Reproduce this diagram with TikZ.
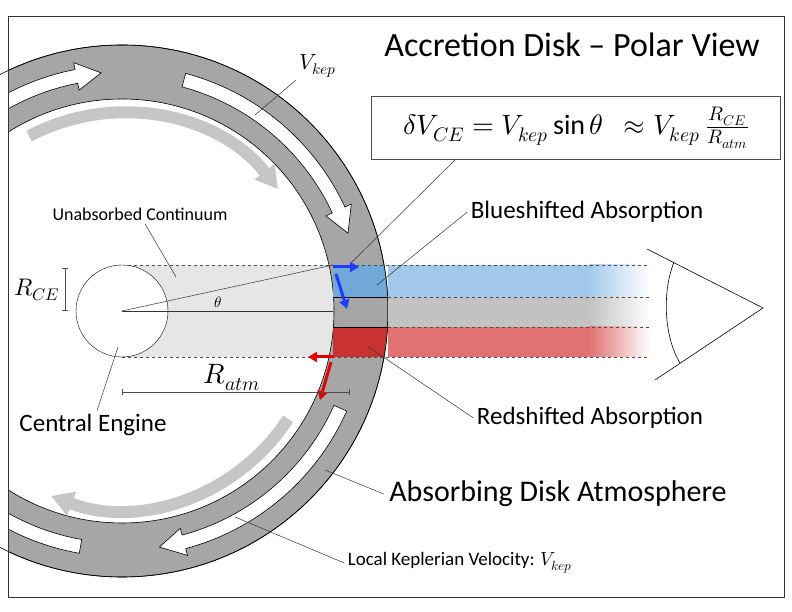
\documentclass[tikz,border=0pt]{standalone}
\usepackage{fontspec}
\usepackage{unicode-math}
\setmainfont{Carlito}
\setmathfont{Latin Modern Math}
\usetikzlibrary{arrows.meta}
\definecolor{ringgray}{HTML}{A6A6A6}
\definecolor{contgray}{HTML}{E6E6E6}
\definecolor{beamgray}{HTML}{C2C2C2}
\definecolor{blueIn}{HTML}{70A8D8}
\definecolor{blueOut}{HTML}{A2C9EB}
\definecolor{redIn}{HTML}{C83232}
\definecolor{redOut}{HTML}{E07272}
\definecolor{vecblue}{HTML}{1E3CFF}
\definecolor{vecred}{HTML}{E00000}
\tikzset{
  leader/.style={draw=black!80,line width=0.5pt},
  lbl/.style={font=\fontsize{25}{30}\selectfont},
  small lbl/.style={font=\fontsize{18}{22}\selectfont},
  flow/.style={fill=white,draw=black,line width=0.6pt},
  vec/.style={line width=3pt,-{Triangle[length=9pt,width=10pt]}},
  beamedge/.style={dashed,draw=black!70,line width=0.6pt}
}
% curved white arrow along the ring: #1 tail angle, #2 tip angle
\newcommand{\ringarrow}[2]{%
  \pgfmathsetmacro{\hb}{#2+6}
  \draw[flow] (#1:246) arc (#1:\hb:246) -- (\hb:253) -- (#2:239)
    -- (\hb:225) -- (\hb:232) arc (\hb:#1:232) -- cycle;}
\begin{document}
\begin{tikzpicture}[x=1pt,y=1pt]
\useasboundingbox (0,0) rectangle (792,612);
\begin{scope}
\clip (8,15) rectangle (784,596);
% unabsorbed continuum
\fill[contgray] (122,255) rectangle (340,347);
% disk atmosphere ring
\begin{scope}[shift={(122,301)}]
  \fill[ringgray,even odd rule] (0,0) circle (266) (0,0) circle (212);
  \draw[black,line width=0.6pt] (0,0) circle (266) (0,0) circle (212);
  \ringarrow{160}{95}
  \ringarrow{75}{19}
  \ringarrow{-24}{-81}
  \ringarrow{-100}{-175}
  \draw[gray!45,line width=12pt,-{Triangle[length=22pt,width=24pt]}] (118:198) arc (118:38:198);
  \draw[gray!45,line width=12pt,-{Triangle[length=22pt,width=24pt]}] (-33:198) arc (-33:-111:198);
\end{scope}
\end{scope}
% absorbed beams inside the ring
\begin{scope}
\clip (122,301) circle (266);
\fill[blueIn] (333,315) rectangle (390,347);
\fill[redIn] (333,255) rectangle (390,285);
\end{scope}
\draw[black,line width=0.6pt] (122,301) circle (266);
% beams beyond the ring
\fill[blueOut] (388,315) rectangle (590,347);
\shade[left color=blueOut,right color=white] (589,315) rectangle (650,347);
\fill[beamgray] (388,285) rectangle (590,315);
\shade[left color=beamgray,right color=white] (589,285) rectangle (650,315);
\fill[redOut] (388,255) rectangle (590,285);
\shade[left color=redOut,right color=white] (589,255) rectangle (650,285);
\draw[beamedge] (122,347) -- (650,347);
\draw[beamedge] (122,255) -- (650,255);
\draw[beamedge] (388,315) -- (650,315);
\draw[beamedge] (388,285) -- (650,285);
\draw[black,line width=0.6pt] (333,315) -- (388,315) (333,285) -- (388,285);
% central engine
\node[circle,draw,fill=white,minimum size=92pt,inner sep=0pt] (engine) at (122,301) {};
\coordinate (ctr) at (122,301);
\coordinate (thetaend) at (333,347);
\coordinate (axisend) at (333,301);
\draw[black!80,line width=0.5pt] (ctr) -- (thetaend);
\draw[black!80,line width=0.5pt] (ctr) -- (axisend);
\node[font=\fontsize{15}{18}\selectfont] (theta) at (218,310) {$\theta$};
% velocity vectors
\draw[vec,vecblue] (333,345) -- (359,345);
\draw[vec,vecblue] (336,338) -- (347,303);
\draw[vec,vecred] (334,255) -- (308,255);
\draw[vec,vecred] (331,250) -- (320,212);
% size brackets
\draw[black!70,line width=0.6pt,|-|] (65,344) -- (65,301);
\node[font=\fontsize{24}{28}\selectfont] (rce) at (37,322) {$R_{CE}$};
\draw[black!70,line width=0.6pt,|-|] (122,220) -- (350,220);
\node[font=\fontsize{28}{32}\selectfont] (ratm) at (232,234) {$R_{atm}$};
% observer eye
\coordinate (eyetop) at (647,363);
\coordinate (eyetip) at (763,304);
\coordinate (eyebot) at (655,232);
\draw[line width=0.6pt] (eyetop) -- (eyetip) -- (eyebot);
\draw[line width=0.6pt] (674,350) .. controls (662,320) and (664,275) .. (680,249);
% frame
\draw[black!80,line width=0.8pt] (8,15) rectangle (784,596);
% title and formula
\node[font=\fontsize{34}{40}\selectfont] (title) at (572,567) {Accretion Disk -- Polar View};
\node[draw=black!70,line width=0.6pt,fill=white,minimum width=409pt,minimum height=63pt,
  font=\fontsize{28}{32}\selectfont] (formula) at (576,484)
  {$\delta V_{CE} = V_{kep}\sin\theta\ \ \approx V_{kep}\ \frac{R_{CE}}{R_{atm}}$};
\coordinate (formulatip) at (352,350);
\draw[leader] (formula.south west) ++(84,0) coordinate (fa) (fa) -- (formulatip);
% labels
\node[small lbl,font=\fontsize{22}{26}\selectfont] (vkep) at (318,546) {$V_{kep}$};
\coordinate (vkeptip) at (255,497);
\draw[leader] (296,532) -- (vkeptip);
\node[small lbl] (cont) at (140,398) {Unabsorbed Continuum};
\coordinate (conttip) at (176,335);
\draw[leader] (cont.south) ++(5,0) -- (conttip);
\node[lbl] (blue) at (587,400) {Blueshifted Absorption};
\coordinate (bluetip) at (377,327);
\draw[leader] (blue.west) -- (bluetip);
\node[lbl] (red) at (590,194) {Redshifted Absorption};
\coordinate (redtip) at (367,266);
\draw[leader] (red.west) -- (redtip);
\node[lbl] (engl) at (93,187) {Central Engine};
\draw[leader] (engl.north) ++(4,0) -- (118,265);
\node[font=\fontsize{30}{34}\selectfont] (atm) at (558,118) {Absorbing Disk Atmosphere};
\coordinate (atmtip) at (325,142);
\draw[leader] (atm.west) ++(-2,0) -- (atmtip);
\node[small lbl,font=\fontsize{19}{23}\selectfont] (local) at (460,49) {Local Keplerian Velocity: $V_{kep}$};
\coordinate (localtip) at (235,95);
\draw[leader] (local.west) -- (localtip);
\end{tikzpicture}
\end{document}
